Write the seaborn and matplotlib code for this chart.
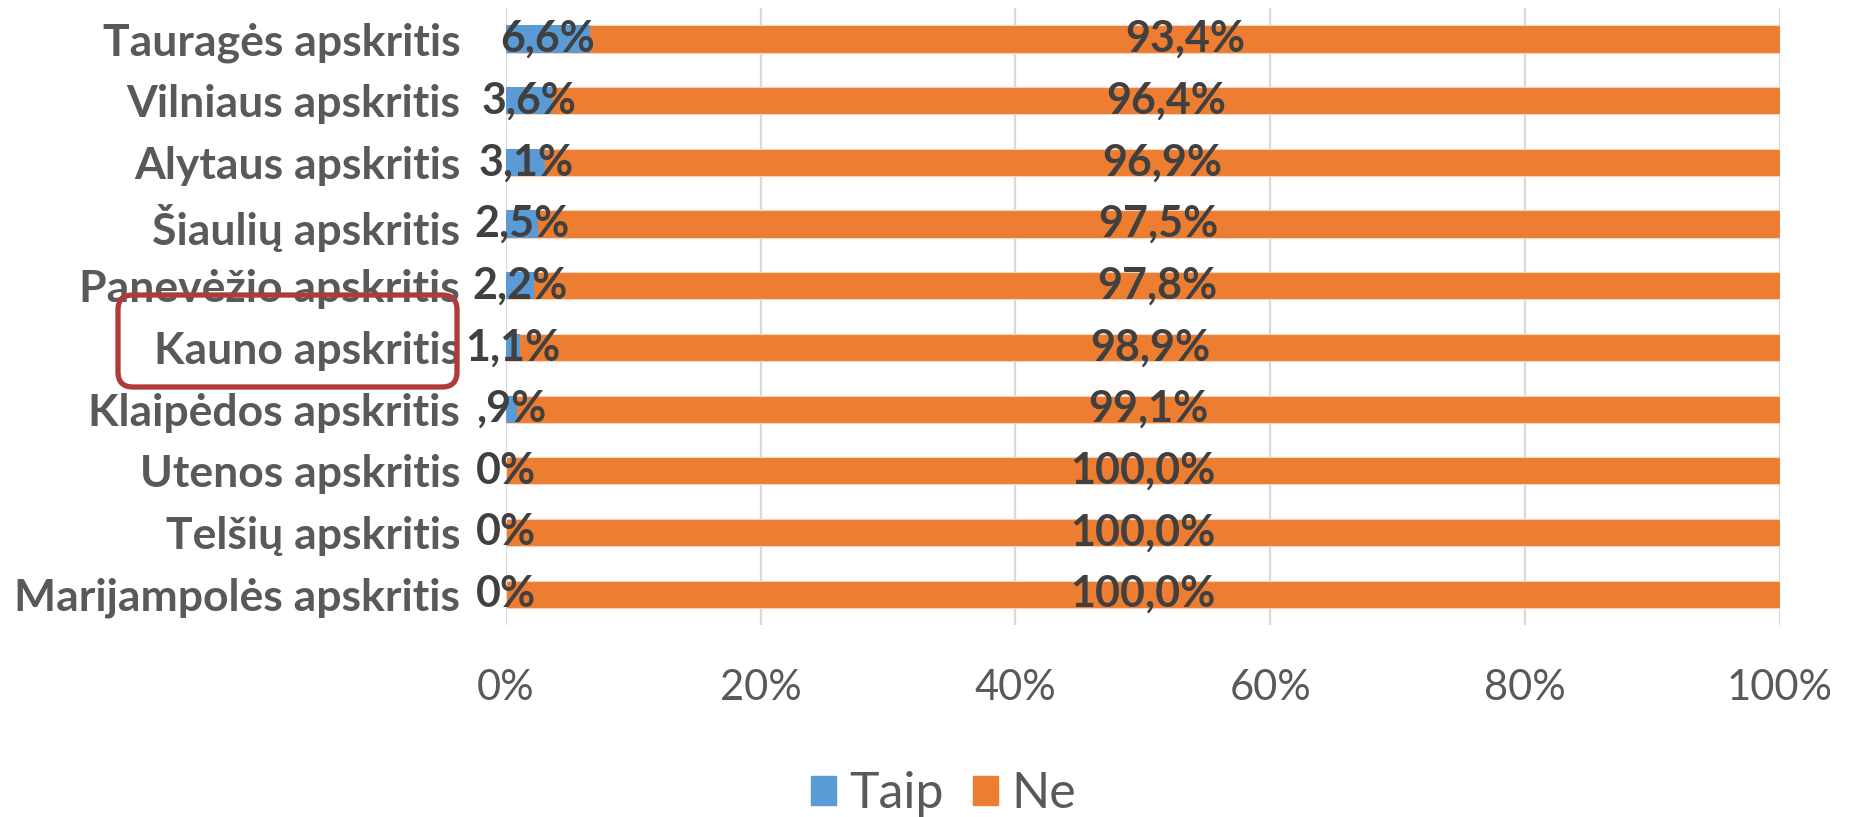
import matplotlib.pyplot as plt
import matplotlib.ticker as mtick
from matplotlib.patches import FancyBboxPatch, Patch
import pandas as pd
import seaborn as sns

regions = ['Tauragės apskritis', 'Vilniaus apskritis', 'Alytaus apskritis',
           'Šiaulių apskritis', 'Panevėžio apskritis', 'Kauno apskritis',
           'Klaipėdos apskritis', 'Utenos apskritis', 'Telšių apskritis',
           'Marijampolės apskritis']
taip = [6.6, 3.6, 3.1, 2.5, 2.2, 1.1, 0.9, 0.0, 0.0, 0.0]
ne = [93.4, 96.4, 96.9, 97.5, 97.8, 98.9, 99.1, 100.0, 100.0, 100.0]
taip_labels = ['6,6%', '3,6%', '3,1%', '2,5%', '2,2%', '1,1%', ',9%', '0%', '0%', '0%']
ne_labels = ['93,4%', '96,4%', '96,9%', '97,5%', '97,8%', '98,9%', '99,1%',
             '100,0%', '100,0%', '100,0%']
x_ticks = [0, 20, 40, 60, 80, 100]

BLUE = '#5B9BD5'
ORANGE = '#ED7D31'
GREY = '#595959'

df = pd.DataFrame({'region': regions, 'taip': taip, 'ne_val': ne})
df['total'] = df['taip'] + df['ne_val']

sns.set_style('white')
plt.rcParams['font.family'] = ['Lato', 'DejaVu Sans']

fig = plt.figure(figsize=(18.5, 8.17), dpi=100)
ax = fig.add_axes([0.2735, 0.235, 0.6885, 0.755])

# stacked: full bar in orange, "Taip" part drawn over it in blue
sns.barplot(data=df, y='region', x='total', color=ORANGE, width=0.44,
            saturation=1, orient='h', ax=ax, zorder=3,
            edgecolor='#F8D3BC', linewidth=0.8)
sns.barplot(data=df, y='region', x='taip', color=BLUE, width=0.44,
            saturation=1, orient='h', ax=ax, zorder=4, linewidth=0)

ax.set_xlim(0, 100)
ax.set_xticks(x_ticks)
ax.xaxis.set_major_formatter(mtick.PercentFormatter(decimals=0))
ax.grid(axis='x', color='#D9D9D9', lw=1.6, zorder=0)
ax.set_axisbelow(True)
sns.despine(ax=ax, left=True, bottom=True, top=True, right=True)
ax.set_xlabel('')
ax.set_ylabel('')
ax.tick_params(axis='x', length=0, pad=32, labelsize=30, labelcolor=GREY)
ax.tick_params(axis='y', length=0, pad=33, labelsize=32, labelcolor=GREY)
for t in ax.get_yticklabels():
    t.set_fontweight('bold')

for i in range(len(regions)):
    ax.text(taip[i] / 2, i, taip_labels[i], ha='center', va='center',
            fontsize=31, fontweight='bold', color='#404040', zorder=6)
    ax.text(taip[i] + ne[i] / 2, i, ne_labels[i], ha='center', va='center',
            fontsize=31, fontweight='bold', color='#404040', zorder=6)

handles = [Patch(color=BLUE, label='Taip'), Patch(color=ORANGE, label='Ne')]
fig.legend(handles=handles, loc='center', bbox_to_anchor=(0.51, 0.028), ncol=2,
           frameon=False, fontsize=36, labelcolor=GREY, handlelength=0.5,
           handleheight=0.5, handletextpad=0.25, columnspacing=0.6)

# red highlight around "Kauno apskritis"
box = FancyBboxPatch((1.18, 4.30), 3.39, 0.92,
                     boxstyle='round,pad=0,rounding_size=0.15',
                     transform=fig.dpi_scale_trans, fill=False,
                     edgecolor='#AE3A3A', linewidth=3.8, zorder=10)
fig.patches.append(box)

fig.savefig('out.png', dpi=100)
